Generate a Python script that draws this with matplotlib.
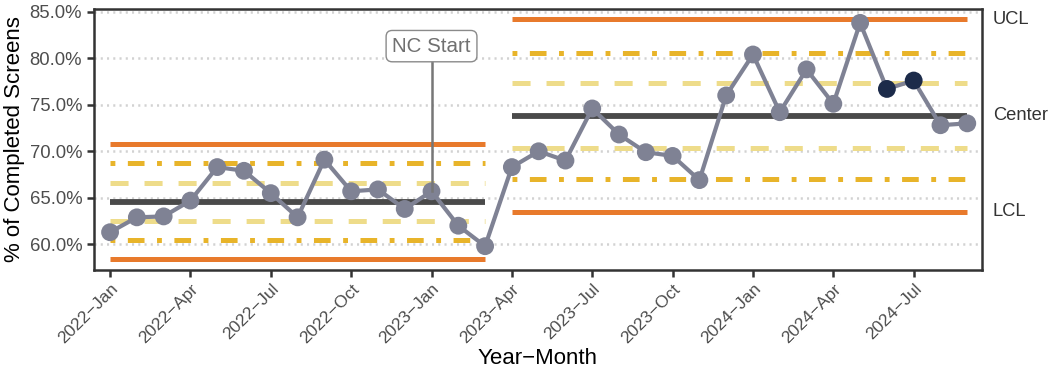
import matplotlib
matplotlib.use("Agg")
import matplotlib.pyplot as plt
import numpy as np

plt.rcParams['font.family'] = ['Liberation Sans', 'DejaVu Sans']
plt.rcParams['lines.scale_dashes'] = False

# ---- data ----
months = ["2022-Jan", "2022-Feb", "2022-Mar", "2022-Apr", "2022-May", "2022-Jun",
          "2022-Jul", "2022-Aug", "2022-Sep", "2022-Oct", "2022-Nov", "2022-Dec",
          "2023-Jan", "2023-Feb", "2023-Mar", "2023-Apr", "2023-May", "2023-Jun",
          "2023-Jul", "2023-Aug", "2023-Sep", "2023-Oct", "2023-Nov", "2023-Dec",
          "2024-Jan", "2024-Feb", "2024-Mar", "2024-Apr", "2024-May", "2024-Jun",
          "2024-Jul", "2024-Aug", "2024-Sep"]
pct = [61.3, 62.9, 63.0, 64.7, 68.3, 67.9, 65.5, 62.9, 69.1, 65.7, 65.9, 63.8,
       65.7, 62.0, 59.8, 68.3, 70.0, 69.0, 74.6, 71.8, 69.9, 69.5, 66.9, 76.0,
       80.4, 74.2, 78.8, 75.1, 83.8, 76.7, 77.6, 72.8, 73.0]
highlight = ["2024-Jun", "2024-Jul"]

phase_start = ["2022-Jan", "2023-Apr"]
phase_end = ["2023-Mar", "2024-Sep"]
center = [64.6, 73.8]
ucl = [70.8, 84.2]
lcl = [58.4, 63.5]
upper2 = [68.7, 80.6]
lower2 = [60.5, 67.0]
upper1 = [66.6, 77.3]
lower1 = [62.5, 70.4]

tick_months = ["2022-Jan", "2022-Apr", "2022-Jul", "2022-Oct", "2023-Jan", "2023-Apr",
               "2023-Jul", "2023-Oct", "2024-Jan", "2024-Apr", "2024-Jul"]
yticks = [60, 65, 70, 75, 80, 85]
annot_month = "2023-Jan"
annot_text = "NC Start"

# ---- colours ----
C_LINE = "#7F8294"
C_DARK = "#1C2B4A"
C_ORANGE = "#E87A2C"
C_GOLD = "#E8B42A"
C_LIGHT = "#EEDC8A"
C_CENTER = "#4A4A4A"
C_TXT = "#4D4D4D"

idx = {m: i for i, m in enumerate(months)}
x = np.arange(len(months))

fig = plt.figure(figsize=(10.6, 3.76), dpi=100)
ax = fig.add_axes([94/1060, 1-270/376, (982-94)/1060, (270-9)/376])

for y in yticks:
    ax.axhline(y, color="#D2D2D2", lw=1.8, ls=(0, (1.5, 3.0)), zorder=0)

for k in range(len(center)):
    xs = [idx[phase_start[k]], idx[phase_end[k]]]
    ax.plot(xs, [ucl[k]] * 2, color=C_ORANGE, lw=3.6, solid_capstyle="butt", zorder=2)
    ax.plot(xs, [lcl[k]] * 2, color=C_ORANGE, lw=3.6, solid_capstyle="butt", zorder=2)
    for v in (upper2[k], lower2[k]):
        ax.plot(xs, [v] * 2, color=C_GOLD, lw=3.6, dash_capstyle="butt",
                ls=(0, (3.5, 9.0, 12.0, 9.0)), zorder=2)
    for v in (upper1[k], lower1[k]):
        ax.plot(xs, [v] * 2, color=C_LIGHT, lw=3.6, dash_capstyle="butt",
                ls=(0, (13.0, 11.5)), zorder=2)
    ax.plot(xs, [center[k]] * 2, color=C_CENTER, lw=4.2, solid_capstyle="butt", zorder=2)

ax.plot(x, pct, color=C_LINE, lw=3.0, zorder=3)
cols = [C_DARK if m in highlight else C_LINE for m in months]
ax.scatter(x, pct, s=165, c=cols, zorder=4, linewidths=0)

# annotation
xa = idx[annot_month]
ax.plot([xa, xa], [pct[xa], 81.3], color="#777777", lw=1.8, zorder=5)
ax.text(xa, 81.3, annot_text, ha="center", va="center", fontsize=14.8, color="#707070",
        zorder=6,
        bbox=dict(boxstyle="round,pad=0.3,rounding_size=0.3", fc="white",
                  ec="#8A8A8A", lw=1.0))

# right labels
for lab, v in zip(["UCL", "Center", "LCL"], [ucl[-1], center[-1], lcl[-1]]):
    ax.text(1.012, v, lab, transform=ax.get_yaxis_transform(), ha="left", va="center",
            fontsize=13.2, color="#333333", clip_on=False)

ax.set_xlim(-0.6, 32.55)
ax.set_ylim(57.24, 85.29)
ax.set_yticks(yticks)
ax.set_yticklabels([f"{v:.1f}%" for v in yticks])
ax.set_xticks([idx[m] for m in tick_months])
ax.set_xticklabels([m.replace("-", "\u2212") for m in tick_months], rotation=45,
                   ha="right", va="top", rotation_mode="anchor")

ax.tick_params(axis="both", colors="#333333", labelcolor=C_TXT,
               length=5, width=1.8, direction="out")
ax.tick_params(axis="y", labelsize=13.3)
ax.tick_params(axis="x", labelsize=12.6, pad=3)
for s in ax.spines.values():
    s.set_color("#333333")
    s.set_linewidth(1.8)

ax.set_xlabel("Year\u2212Month", fontsize=16, color="black", labelpad=1)
ax.set_ylabel("% of Completed Screens", fontsize=16, color="black", labelpad=3)

fig.savefig("out.png", dpi=100)
